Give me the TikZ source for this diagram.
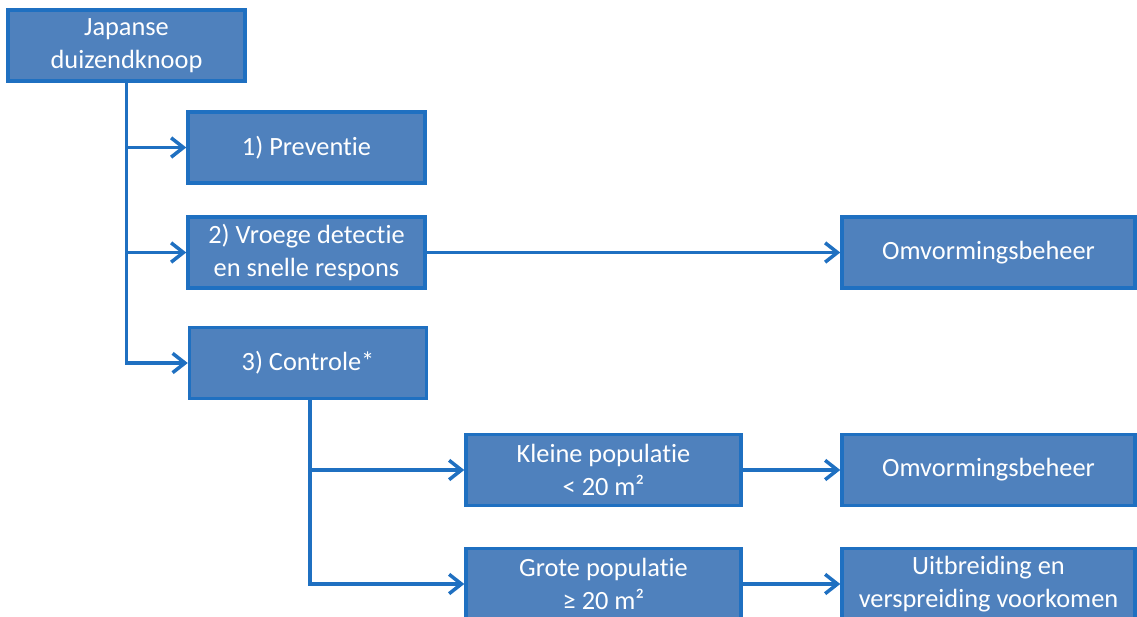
\documentclass[tikz,border=0pt]{standalone}
\usepackage{fontspec}
\setmainfont{Carlito}[Ligatures=NoCommon]
\usetikzlibrary{positioning}
\usetikzlibrary{arrows.meta}

\definecolor{boxfill}{HTML}{4F81BD}
\definecolor{boxline}{HTML}{1F70C1}

\begin{document}
\begin{tikzpicture}[x=0.02cm, y=-0.02cm,
    box/.style={draw=boxline, fill=boxfill, line width=2pt, text=white,
      align=center, inner sep=0pt, minimum height=1.42cm,
      font=\fontsize{15}{18.5}\selectfont},
    arr/.style={draw=boxline, line width=2pt,
      -{Straight Barb[length=7pt, width=11pt]}}]
  \useasboundingbox (0, 0) rectangle (1137, 616);
  \clip (0, 0) rectangle (1137, 616);

  \node [box, minimum width=4.74cm] (plant) at (126.5, 45.5) {Japanse\\duizendknoop};

  \node [box, minimum width=4.74cm] (prev) at (306.5, 147.5) {1) Preventie};
  \node [box, minimum width=4.74cm] (early) at (306.5, 252.5) {2) Vroege detectie\\en snelle respons};
  \node [box, minimum width=4.74cm] (ctrl) at (308, 363) {3) Controle*};

  \node [box, minimum width=5.5cm] (small) at (603.5, 470) {Kleine populatie\\< 20 m²};
  \node [box, minimum width=5.5cm] (large) at (603.5, 584) {Grote populatie\\≥ 20 m²};

  \node [box, minimum width=5.86cm] (conv1) at (988.5, 252.5) {Omvormingsbeheer};
  \node [box, minimum width=5.86cm] (conv2) at (988.5, 470) {Omvormingsbeheer};
  \node [box, minimum width=5.86cm] (spread) at (988.5, 584) {Uitbreiding en\\verspreiding voorkomen};

  \draw [arr] (plant.south) |- (prev);
  \draw [arr] (plant.south) |- (early);
  \draw [arr] (plant.south) |- (ctrl);
  \draw [arr] (early) -- (conv1);

  \draw [arr] ([xshift=0.04cm]ctrl.south) |- (small);
  \draw [arr] ([xshift=0.04cm]ctrl.south) |- (large);
  \draw [arr] (small) -- (conv2);
  \draw [arr] (large) -- (spread);
\end{tikzpicture}
\end{document}
